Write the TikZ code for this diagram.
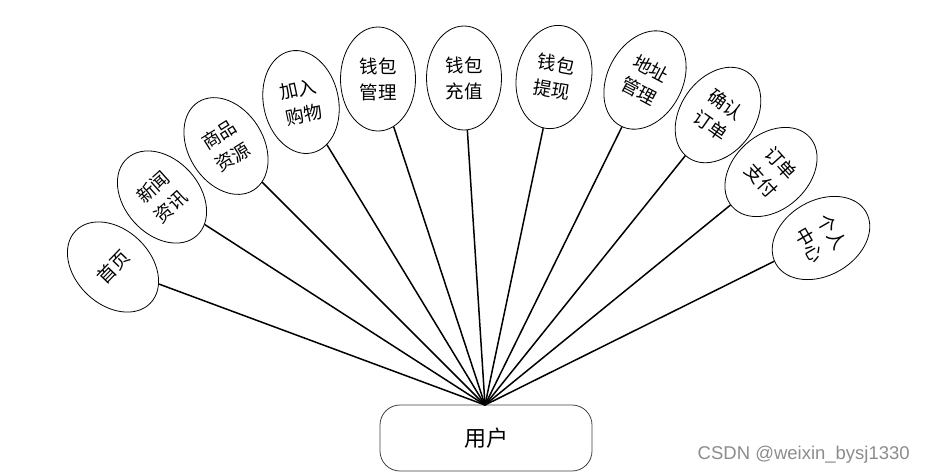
\documentclass[tikz,border=0pt]{standalone}
\usepackage{fontspec}
\newfontfamily\cjk{Noto Sans CJK SC}
\newfontfamily\wm{Liberation Sans}
\usetikzlibrary{shapes.geometric}
\tikzset{
  leaf/.style={draw=black, line width=0.8pt, ellipse, minimum width=75pt, minimum height=104pt,
    inner sep=0pt, align=center, font=\cjk\fontsize{18.5}{26}\selectfont, fill=white},
  link/.style={line width=1.5pt, black},
  root/.style={draw=black!75, line width=0.8pt, rounded corners=20pt, minimum width=212pt,
    minimum height=66pt, font=\cjk\fontsize{22}{24}\selectfont}
}
\begin{document}
\begin{tikzpicture}[x=1pt,y=-1pt]
\useasboundingbox (0,0) rectangle (926,475);
\coordinate (hub) at (485,405);
\node[root] (user) at (486,438) {用户};
\node[leaf, rotate=46] (e1) at (113,267) {首页};
\node[leaf, rotate=42] (e2) at (162,197) {新闻\\资讯};
\node[leaf, rotate=32] (e3) at (226,146) {商品\\资源};
\node[leaf, rotate=12] (e4) at (301,102) {加入\\购物};
\node[leaf] (e5) at (378,79) {钱包\\管理};
\node[leaf] (e6) at (464,78) {钱包\\充值};
\node[leaf, rotate=-10] (e7) at (554,77) {钱包\\提现};
\node[leaf, rotate=-28] (e8) at (645,80) {地址\\管理};
\node[leaf, rotate=-35] (e9) at (718,115) {确认\\订单};
\node[leaf, rotate=-48] (e10) at (771,172) {订单\\支付};
\node[leaf, rotate=-60] (e11) at (821,238) {个人\\中心};
\foreach \i in {1,...,11} \draw[link] (e\i) -- (hub);
\node[font=\wm\fontsize{18.5}{20}\selectfont, text=black!45, anchor=east, inner sep=0pt] (wmk) at (910,455) {CSDN @weixin\_bysj1330};
\end{tikzpicture}
\end{document}
